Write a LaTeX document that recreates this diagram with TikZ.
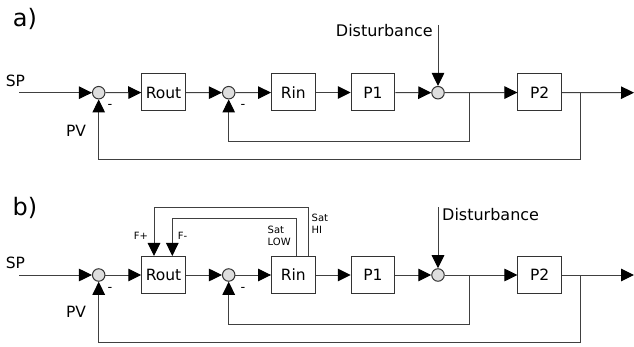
\documentclass[tikz,border=0pt]{standalone}
\usepackage{fontspec}
\setmainfont{DejaVu Sans}
\usetikzlibrary{arrows.meta}
\begin{document}
\begin{tikzpicture}[x=1pt,y=-1pt,
 line/.style={draw=black!75, line width=1pt},
 arr/.style={line, -{Triangle[length=13pt,width=12.5pt,color=black]}},
 blk/.style={draw=black!80, line width=1pt, minimum width=43.5pt, minimum height=37pt, inner sep=0pt, font=\fontsize{15.5}{17}\selectfont},
 sumn/.style={circle, draw=black!80, fill=black!13, line width=1pt, minimum size=12.5pt, inner sep=0pt},
 lbl/.style={font=\fontsize{15.5}{17}\selectfont, inner sep=0pt},
 big/.style={font=\fontsize{24}{28}\selectfont, inner sep=0pt},
 small/.style={font=\fontsize{10}{12}\selectfont, inner sep=0pt, align=left},
]
\useasboundingbox (0,0) rectangle (634,347);
% ---------- a ----------
\node[big] (la) at (25,19) {a)};
\coordinate (sa) at (19,92.7);
\node[sumn] (s1a) at (98.7,92.7) {};
\node[blk] (routa) at (163.5,92.5) {Rout};
\node[sumn] (s2a) at (228.7,92.7) {};
\node[blk] (rina) at (293.3,92.5) {Rin};
\node[blk] (p1a) at (373,92.5) {P1};
\node[sumn] (s3a) at (438,92.7) {};
\node[blk] (p2a) at (539.7,92.5) {P2};
\coordinate (enda) at (634,92.7);
\coordinate (b1a) at (469,92.7);
\coordinate (b2a) at (580,92.7);
\coordinate (da) at (438,25);
\node[lbl] (spa) at (15.5,80.7) {SP};
\node[lbl] (pva) at (76,131) {PV};
\node[lbl,font=\fontsize{13}{15}\selectfont] (m1a) at (110,106.7) {-};
\node[lbl,font=\fontsize{13}{15}\selectfont] (m2a) at (243,106.7) {-};
\node[lbl,font=\fontsize{16}{18}\selectfont,anchor=east] (dla) at (433,31) {Disturbance};
\draw[arr] (sa) -- (s1a);
\draw[arr] (s1a) -- (routa);
\draw[arr] (routa) -- (s2a);
\draw[arr] (s2a) -- (rina);
\draw[arr] (rina) -- (p1a);
\draw[arr] (p1a) -- (s3a);
\draw[arr] (s3a) -- (p2a);
\draw[arr] (p2a) -- (enda);
\draw[arr] (da) -- (s3a);
\draw[arr] (b1a) -- ++(0,49.3) -| (s2a);
\draw[arr] (b2a) -- ++(0,67.3) -| (s1a);
% ---------- b ----------
\node[big] (lb) at (25,208) {b)};
\coordinate (sb) at (19,275);
\node[sumn] (s1b) at (98.7,275) {};
\node[blk] (routb) at (163.5,275) {Rout};
\node[sumn] (s2b) at (228.7,275) {};
\node[blk] (rinb) at (293.3,275) {Rin};
\node[blk] (p1b) at (373,275) {P1};
\node[sumn] (s3b) at (438,275) {};
\node[blk] (p2b) at (539.7,275) {P2};
\coordinate (endb) at (634,275);
\coordinate (b1b) at (469,275);
\coordinate (b2b) at (580,275);
\coordinate (db) at (438,207.3);
\node[lbl] (spb) at (15.5,263) {SP};
\node[lbl] (pvb) at (76,311.7) {PV};
\node[lbl,font=\fontsize{13}{15}\selectfont] (m1b) at (110,289) {-};
\node[lbl,font=\fontsize{13}{15}\selectfont] (m2b) at (243,289) {-};
\node[lbl,font=\fontsize{16}{18}\selectfont,anchor=west] (dlb) at (442,214.3) {Disturbance};
\node[small] (fp) at (141,236) {F+};
\node[small] (fm) at (182.5,236) {F-};
\node[small,anchor=west] (slow) at (267.5,236) {Sat\\LOW};
\node[small,anchor=west] (shi) at (311.5,224) {Sat\\HI};
\draw[arr] (sb) -- (s1b);
\draw[arr] (s1b) -- (routb);
\draw[arr] (routb) -- (s2b);
\draw[arr] (s2b) -- (rinb);
\draw[arr] (rinb) -- (p1b);
\draw[arr] (p1b) -- (s3b);
\draw[arr] (s3b) -- (p2b);
\draw[arr] (p2b) -- (endb);
\draw[arr] (db) -- (s3b);
\draw[arr] (b1b) -- ++(0,49.3) -| (s2b);
\draw[arr] (b2b) -- ++(0,67.7) -| (s1b);
\draw[arr] ([xshift=15pt]rinb.north) -- ++(0,-48.7) -| ([xshift=-9.5pt]routb.north);
\draw[arr] ([xshift=2.7pt]rinb.north) -- ++(0,-37) -| ([xshift=8.8pt]routb.north);
\end{tikzpicture}
\end{document}
